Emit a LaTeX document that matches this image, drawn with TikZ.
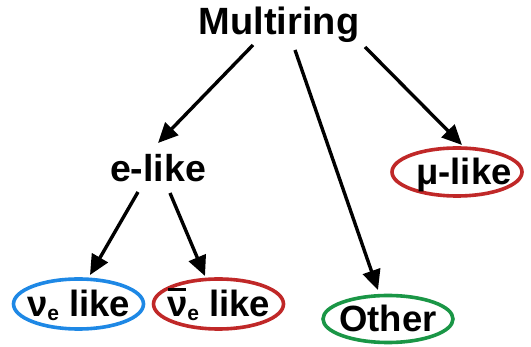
\documentclass[tikz,border=0pt]{standalone}
\usepackage{fontspec}
\setmainfont{Liberation Sans}
\usetikzlibrary{arrows.meta,shapes.geometric,calc}
\definecolor{ringblue}{RGB}{30,136,229}
\definecolor{ringred}{RGB}{192,40,40}
\definecolor{ringgreen}{RGB}{26,150,70}
\newcommand\subE{{\fontsize{21}{21}\selectfont\raisebox{-4pt}{e}}}
\newcommand\nubarsym{\makebox[0pt][l]{\hspace{1pt}\raisebox{26pt}{\rule{18pt}{2.7pt}}}ν}
\newcommand\zw[1]{\makebox[0pt]{#1}}
\begin{document}
\begin{tikzpicture}[x=1pt,y=-1pt,
  lbl/.style={font=\bfseries\fontsize{37.5}{37.5}\selectfont, inner sep=0pt},
  ring/.style={ellipse, draw, line width=3.6pt, minimum width=130pt, minimum height=48pt,
    inner sep=0pt, font=\bfseries\fontsize{36.5}{36.5}\selectfont, text height=26pt, text depth=0pt},
  arr/.style={line width=3.4pt, -{Triangle[length=20pt,width=18pt]}}]
\useasboundingbox (0,0) rectangle (531,347);
\node[lbl, anchor=base, font=\bfseries\fontsize{38}{38}\selectfont] (multi) at (279,35) {Multiring};
\node[lbl, anchor=base] (elike) at (158,182) {e-like};
\node[ring, draw=ringred] (mu) at (457,172) {\zw{\hspace{14pt}μ-like}};
\node[ring, draw=ringgreen, minimum height=47pt] (other) at (388,319) {\zw{Other}};
\node[ring, draw=ringblue, minimum height=50pt] (nue) at (78.5,304) {\zw{ν\subE{} like}};
\node[ring, draw=ringred, minimum height=50pt] (nuebar) at (218.5,304) {\zw{\nubarsym\subE{} like}};
\draw[arr] ($(multi.base)+(-26,10)$) -- ($(elike.base)+(0,-39)$);
\draw[arr] ($(multi.base)+(16,15)$) -- ($(other.center)+(-10,-29)$);
\draw[arr] ($(multi.base)+(86,12)$) -- ($(mu.center)+(5,-27)$);
\draw[arr] ($(elike.base)+(-20,10)$) -- ($(nue.center)+(11.5,-29)$);
\draw[arr] ($(elike.base)+(12,11)$) -- ($(nuebar.center)+(-13.5,-28)$);
\end{tikzpicture}
\end{document}
